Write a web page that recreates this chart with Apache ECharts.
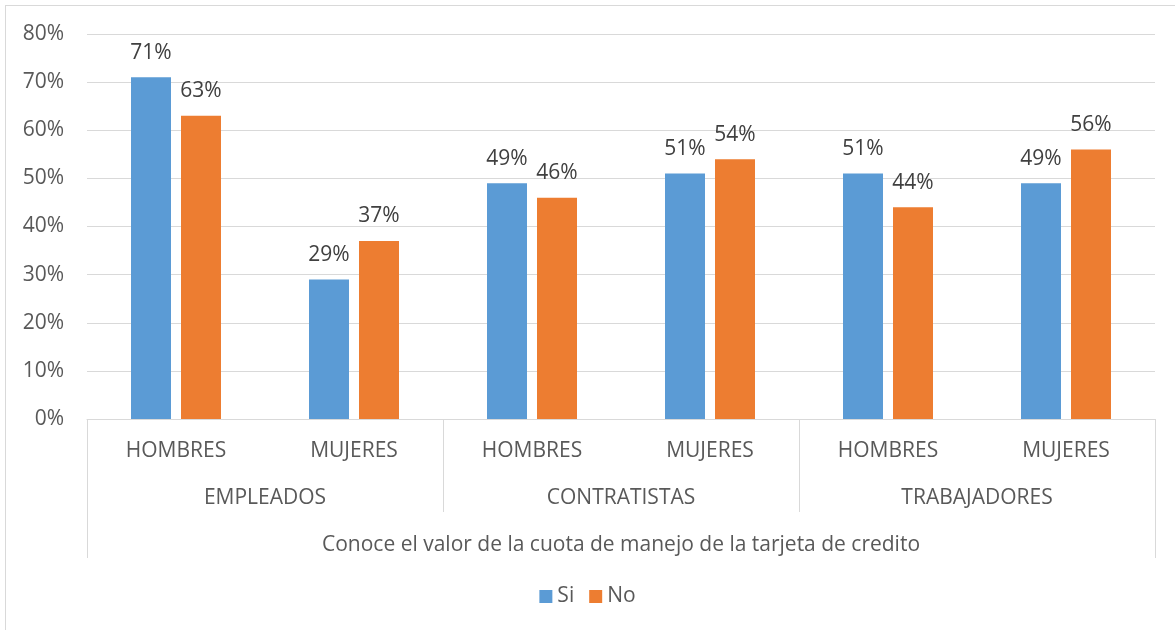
<!DOCTYPE html>
<html>
<head>
<meta charset="utf-8">
<script src="https://cdn.jsdelivr.net/npm/echarts@6/dist/echarts.min.js"></script>
<style>
  html, body { margin: 0; padding: 0; background: #fff; }
  #frame { position: absolute; left: 5px; top: 5px; width: 1175px; height: 630px; border-left: 1px solid #d9d9d9; border-top: 1px solid #d9d9d9; }
  #main { position: absolute; left: 0; top: 0; width: 1175px; height: 630px; }
</style>
</head>
<body>
<div id="frame"></div>
<div id="main"></div>
<script>
var subgroups = ['HOMBRES', 'MUJERES', 'HOMBRES', 'MUJERES', 'HOMBRES', 'MUJERES'];
var groups = ['EMPLEADOS', 'CONTRATISTAS', 'TRABAJADORES'];
var question = ['Conoce el valor de la cuota de manejo de la tarjeta de credito'];
var si = [71, 29, 49, 51, 51, 49];
var no = [63, 37, 46, 54, 44, 56];
var yTicks = { min: 0, max: 80, interval: 10 };

var txt = '#595959';
var fontName = 'Open Sans';
var lineCol = '#d9d9d9';
var fs = 21;

var myChart = echarts.init(document.getElementById('main'));

option = {
    color: ['#5B9BD5', '#ED7D31'],
    textStyle: { fontFamily: fontName },
    grid: { left: 87, right: 20, top: 34, bottom: 211, containLabel: false },
    legend: {
        top: 581,
        left: 'center',
        itemWidth: 13,
        itemHeight: 13,
        itemGap: 15,
        icon: 'rect',
        textStyle: { fontSize: fs, color: txt, fontFamily: fontName },
        data: ['Si', 'No']
    },
    xAxis: [{
        type: 'category',
        data: subgroups,
        axisLine: { lineStyle: { color: lineCol } },
        axisTick: { show: false },
        axisLabel: { margin: 22, fontSize: fs, color: txt, fontFamily: fontName, interval: 0 }
    }, {
        type: 'category',
        position: 'bottom',
        data: groups,
        axisLine: { show: false },
        axisTick: { show: true, length: 93, lineStyle: { color: lineCol } },
        axisLabel: { margin: 69, fontSize: fs, color: txt, fontFamily: fontName, interval: 0 }
    }, {
        type: 'category',
        position: 'bottom',
        data: question,
        axisLine: { show: false },
        axisTick: { show: true, length: 139, lineStyle: { color: lineCol } },
        axisLabel: { margin: 116, fontSize: fs, color: txt, fontFamily: fontName, interval: 0 }
    }],
    yAxis: {
        type: 'value',
        min: yTicks.min,
        max: yTicks.max,
        interval: yTicks.interval,
        axisLine: { show: false },
        axisTick: { show: false },
        splitLine: { lineStyle: { color: lineCol } },
        axisLabel: { formatter: '{value}%', margin: 23, fontSize: fs, color: txt, fontFamily: fontName }
    },
    series: [{
        name: 'Si',
        type: 'bar',
        xAxisIndex: 0,
        barWidth: 40,
        barGap: '25%',
        data: si,
        label: { show: true, position: 'top', distance: 14, formatter: '{c}%', fontSize: fs, color: '#404040', fontFamily: fontName }
    }, {
        name: 'No',
        type: 'bar',
        xAxisIndex: 0,
        barWidth: 40,
        barGap: '25%',
        data: no,
        label: { show: true, position: 'top', distance: 14, formatter: '{c}%', fontSize: fs, color: '#404040', fontFamily: fontName }
    }]
};

myChart.setOption(option);
</script>
</body>
</html>
